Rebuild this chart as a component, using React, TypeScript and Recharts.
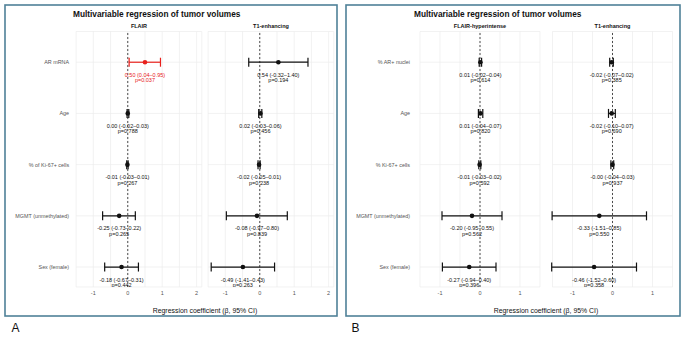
import React from 'react';
import {
  ScatterChart,
  Scatter,
  XAxis,
  YAxis,
  CartesianGrid,
  ErrorBar,
  ReferenceLine,
} from 'recharts';

// Predictor names (top to bottom)
const predictorsA = ['AR mRNA', 'Age', '% of Ki-67+ cells', 'MGMT (unmethylated)', 'Sex (female)'];
const predictorsB = ['% AR+ nuclei', 'Age', '% Ki-67+ cells', 'MGMT (unmethylated)', 'Sex (female)'];

// Cohort A – FLAIR volume
const flairA_est = [0.5, 0.0, -0.01, -0.25, -0.18];
const flairA_lo = [0.04, -0.02, -0.03, -0.73, -0.67];
const flairA_hi = [0.95, 0.03, 0.01, 0.22, 0.31];
const flairA_p = [0.037, 0.788, 0.267, 0.265, 0.442];

// Cohort A – T1-enhancing volume
const t1A_est = [0.54, 0.02, -0.02, -0.08, -0.49];
const t1A_lo = [-0.32, -0.03, -0.05, -0.97, -1.41];
const t1A_hi = [1.4, 0.06, 0.01, 0.8, 0.43];
const t1A_p = [0.194, 0.456, 0.238, 0.839, 0.263];

// Cohort B – FLAIR-hyperintense volume
const flairB_est = [0.01, 0.01, -0.01, -0.2, -0.27];
const flairB_lo = [-0.02, -0.04, -0.03, -0.95, -0.94];
const flairB_hi = [0.04, 0.07, 0.02, 0.55, 0.4];
const flairB_p = [0.614, 0.82, 0.592, 0.562, 0.396];

// Cohort B – T1-enhancing volume
const t1B_est = [-0.02, -0.02, -0, -0.33, -0.46];
const t1B_lo = [-0.07, -0.1, -0.04, -1.51, -1.52];
const t1B_hi = [0.02, 0.07, 0.03, 0.85, 0.6];
const t1B_p = [0.385, 0.69, 0.937, 0.55, 0.358];

// Axis ticks (half steps only draw grid lines)
const ticksA = [-1.5, -1, -0.5, 0, 0.5, 1, 1.5, 2];
const ticksB = [-1.5, -1, -0.5, 0, 0.5, 1, 1.5];
const rowTicks = [0, 1, 2, 3, 4];

const FONT = '"Liberation Sans", Arial, Helvetica, sans-serif';
const RED = '#e8201c';
const INK = '#111111';
const FRAME = '#4f8198';
const AXIS_TEXT = '#555555';

const fmt = (v: number) => (Object.is(v, -0) ? '-' : '') + v.toFixed(2);

type Row = { row: number; est: number; err: [number, number]; ci: string; pl: string; p: number };

function buildRows(est: number[], lo: number[], hi: number[], p: number[]): Row[] {
  return est.map((e, i) => ({
    row: i,
    est: e,
    err: [e - lo[i], hi[i] - e],
    ci: `${fmt(e)} (${fmt(lo[i])}\u2013${fmt(hi[i])})`,
    pl: `p=${p[i].toFixed(3)}`,
    p: p[i],
  }));
}

const makeShape = (color: string) => (props: any) => {
  const { cx, cy, payload } = props;
  if (cx == null || cy == null) return <g />;
  return (
    <g>
      <circle cx={cx} cy={cy} r={2.3} fill={color} />
      <text x={cx} y={cy + 14.6} textAnchor="middle" fontSize={5.5} fill={color}>
        {payload.ci}
      </text>
      <text x={cx} y={cy + 20} textAnchor="middle" fontSize={5.5} fill={color}>
        {payload.pl}
      </text>
    </g>
  );
};

// Single-line predictor label at the left of each row
const makeRowTick = (names: string[]) => (props: any) => {
  const { x, y, payload } = props;
  return (
    <text x={x} y={y} dy={1.9} textAnchor="end" fontSize={5.4} fill={AXIS_TEXT}>
      {names[payload.value] ?? ''}
    </text>
  );
};

type FacetProps = {
  left: number;
  width: number;
  yWidth: number;
  marginLeft: number;
  marginRight: number;
  tickMargin: number;
  domain: [number, number];
  ticks: number[];
  names: string[];
  rows: Row[];
  showY: boolean;
};

function Facet(props: FacetProps) {
  const { left, width, yWidth, marginLeft, marginRight, tickMargin, domain, ticks, names, rows, showY } = props;
  const sig = rows.filter((r) => r.p < 0.05);
  const ns = rows.filter((r) => r.p >= 0.05);
  return (
    <div style={{ position: 'absolute', left, top: 0 }}>
      <ScatterChart
        width={width}
        height={300}
        margin={{ top: 31.5, right: marginRight, bottom: 0, left: marginLeft }}
      >
        <CartesianGrid stroke="#ececec" strokeWidth={0.7} />
        <XAxis
          type="number"
          dataKey="est"
          domain={domain}
          ticks={ticks}
          interval={0}
          allowDataOverflow
          axisLine={false}
          tickLine={false}
          tickSize={0}
          tickMargin={4}
          height={13}
          tick={{ fontSize: 5.5, fill: AXIS_TEXT }}
          tickFormatter={(v: number) => (Number.isInteger(v) ? String(v) : '')}
        />
        <YAxis
          type="number"
          dataKey="row"
          domain={[-0.6, 4.39]}
          reversed
          ticks={rowTicks}
          interval={0}
          allowDataOverflow
          hide={!showY}
          width={yWidth}
          axisLine={false}
          tickLine={false}
          tickSize={0}
          tickMargin={tickMargin}
          tick={makeRowTick(names)}
        />
        <ReferenceLine x={0} stroke="#222222" strokeDasharray="2 2" strokeWidth={0.8} />
        <Scatter data={ns} fill={INK} shape={makeShape(INK)} isAnimationActive={false}>
          <ErrorBar dataKey="err" direction="x" width={4.5} stroke={INK} strokeWidth={1.2} />
        </Scatter>
        <Scatter data={sig} fill={RED} shape={makeShape(RED)} isAnimationActive={false}>
          <ErrorBar dataKey="err" direction="x" width={4.5} stroke={RED} strokeWidth={1.2} />
        </Scatter>
      </ScatterChart>
    </div>
  );
}

export default function App() {
  const rowsFlairA = buildRows(flairA_est, flairA_lo, flairA_hi, flairA_p);
  const rowsT1A = buildRows(t1A_est, t1A_lo, t1A_hi, t1A_p);
  const rowsFlairB = buildRows(flairB_est, flairB_lo, flairB_hi, flairB_p);
  const rowsT1B = buildRows(t1B_est, t1B_lo, t1B_hi, t1B_p);

  return (
    <div
      style={{
        position: 'absolute',
        left: 0,
        top: 0,
        width: 685,
        height: 337,
        background: '#ffffff',
        overflow: 'hidden',
        fontFamily: FONT,
      }}
    >
      <Facet
        left={0}
        width={205}
        yWidth={76.1}
        marginLeft={0}
        marginRight={3.2}
        tickMargin={7}
        domain={[-1.5, 2.15]}
        ticks={ticksA}
        names={predictorsA}
        rows={rowsFlairA}
        showY
      />
      <Facet
        left={205}
        width={132}
        yWidth={0}
        marginLeft={3.1}
        marginRight={3.2}
        tickMargin={7}
        domain={[-1.5, 2.15]}
        ticks={ticksA}
        names={predictorsA}
        rows={rowsT1A}
        showY={false}
      />
      <Facet
        left={340}
        width={203}
        yWidth={80}
        marginLeft={0}
        marginRight={3}
        tickMargin={10}
        domain={[-1.5, 1.5]}
        ticks={ticksB}
        names={predictorsB}
        rows={rowsFlairB}
        showY
      />
      <Facet
        left={543}
        width={133}
        yWidth={0}
        marginLeft={9.5}
        marginRight={3.5}
        tickMargin={10}
        domain={[-1.5, 1.5]}
        ticks={ticksB}
        names={predictorsB}
        rows={rowsT1B}
        showY={false}
      />
      <svg
        width={685}
        height={337}
        style={{ position: 'absolute', left: 0, top: 0, pointerEvents: 'none' }}
      >
        <rect x={5} y={5} width={332} height={311} fill="none" stroke={FRAME} strokeWidth={1.6} />
        <rect x={346} y={5} width={334} height={311} fill="none" stroke={FRAME} strokeWidth={1.6} />

        <text x={73} y={16.7} fontSize={8.3} fontWeight="bold" fill="#111">
          Multivariable regression of tumor volumes
        </text>
        <text x={414} y={16.7} fontSize={8.3} fontWeight="bold" fill="#111">
          Multivariable regression of tumor volumes
        </text>

        <text x={139} y={28.3} fontSize={5.5} fontWeight="bold" textAnchor="middle" fill="#111">
          FLAIR
        </text>
        <text x={271} y={28.3} fontSize={5.5} fontWeight="bold" textAnchor="middle" fill="#111">
          T1-enhancing
        </text>
        <text x={480} y={28.3} fontSize={5.5} fontWeight="bold" textAnchor="middle" fill="#111">
          FLAIR-hyperintense
        </text>
        <text x={612.5} y={28.3} fontSize={5.5} fontWeight="bold" textAnchor="middle" fill="#111">
          T1-enhancing
        </text>

        <text x={205} y={312.5} fontSize={6.9} textAnchor="middle" fill="#111">
          Regression coefficient (β, 95% CI)
        </text>
        <text x={546} y={312.5} fontSize={6.9} textAnchor="middle" fill="#111">
          Regression coefficient (β, 95% CI)
        </text>

        <text x={11.5} y={332} fontSize={12} fill="#111">
          A
        </text>
        <text x={351.5} y={332} fontSize={12} fill="#111">
          B
        </text>
      </svg>
    </div>
  );
}
